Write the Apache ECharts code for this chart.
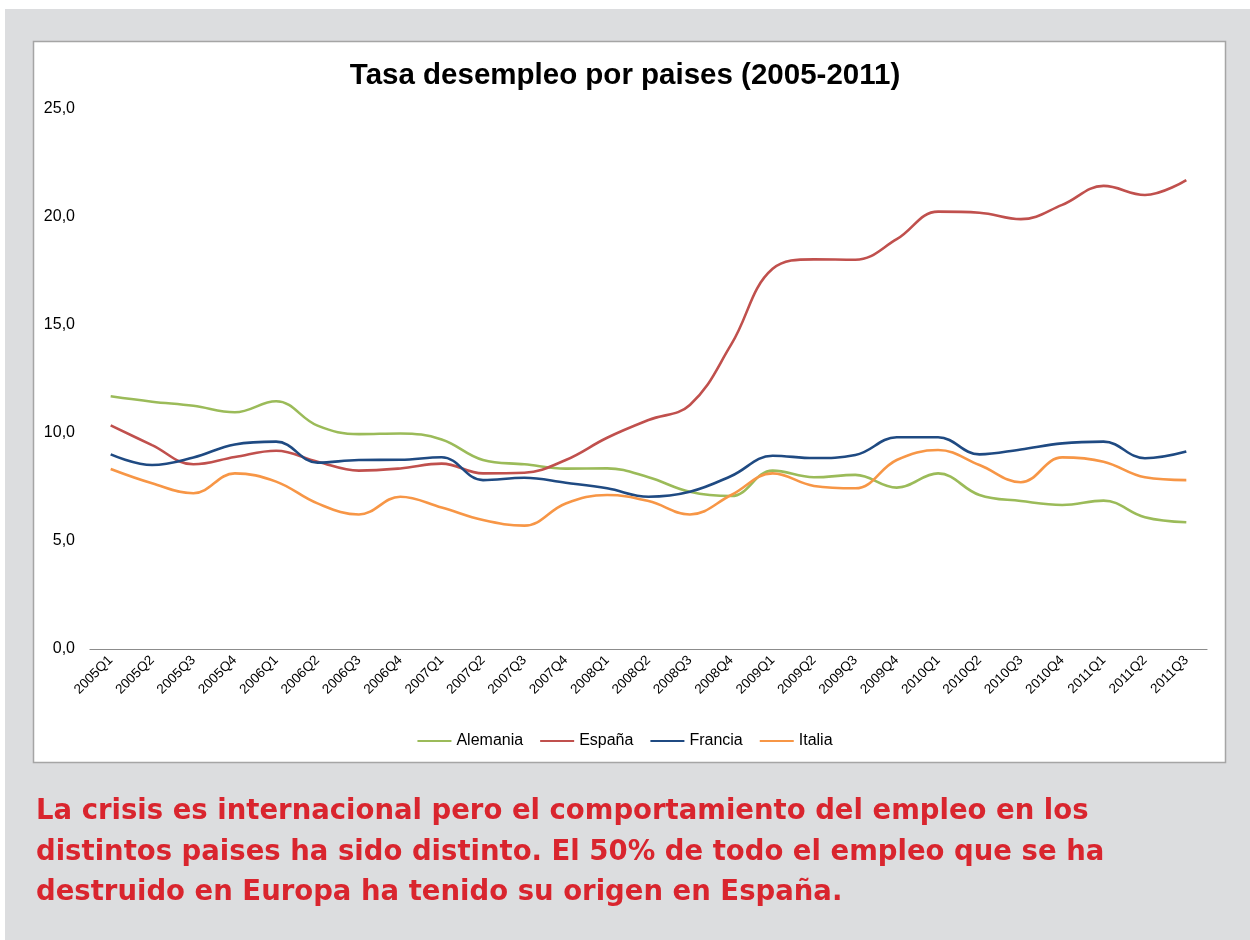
<!DOCTYPE html>
<html>
<head>
<meta charset="utf-8">
<script src="https://cdn.jsdelivr.net/npm/echarts@6/dist/echarts.min.js"></script>
<style>
  html, body { margin: 0; padding: 0; background: #fff; }
  #chart { width: 1250px; height: 940px; }
</style>
</head>
<body>
<div id="chart"></div>
<script>
const categories = [
  '2005Q1', '2005Q2', '2005Q3', '2005Q4', '2006Q1', '2006Q2', '2006Q3', '2006Q4',
  '2007Q1', '2007Q2', '2007Q3', '2007Q4', '2008Q1', '2008Q2', '2008Q3', '2008Q4',
  '2009Q1', '2009Q2', '2009Q3', '2009Q4', '2010Q1', '2010Q2', '2010Q3', '2010Q4',
  '2011Q1', '2011Q2', '2011Q3'
]
const alemania = [11.7, 11.45, 11.26, 10.96, 11.47, 10.34, 9.95, 9.98, 9.7, 8.75, 8.55, 8.35, 8.36, 7.95, 7.28, 7.08, 8.26, 7.95, 8.06, 7.47, 8.13, 7.13, 6.85, 6.67, 6.87, 6.1, 5.87]
const espana = [10.35, 9.44, 8.55, 8.89, 9.18, 8.67, 8.26, 8.36, 8.58, 8.13, 8.16, 8.75, 9.78, 10.6, 11.3, 14.1, 17.6, 18.04, 18.02, 18.97, 20.25, 20.2, 19.9, 20.56, 21.44, 21.02, 21.71]
const francia = [9.01, 8.52, 8.87, 9.47, 9.6, 8.63, 8.75, 8.76, 8.88, 7.82, 7.93, 7.7, 7.44, 7.05, 7.28, 8.01, 8.95, 8.84, 8.98, 9.8, 9.8, 9.01, 9.24, 9.52, 9.6, 8.83, 9.14]
const italia = [8.33, 7.67, 7.21, 8.13, 7.75, 6.74, 6.23, 7.05, 6.55, 5.97, 5.71, 6.74, 7.13, 6.85, 6.23, 7.13, 8.13, 7.55, 7.44, 8.75, 9.21, 8.52, 7.72, 8.87, 8.67, 7.95, 7.82]
const yTicks = [0, 5, 10, 15, 20, 25]

const chart = echarts.init(document.getElementById('chart'))

function lineSeries(name, data, color) {
  return {
    name: name,
    type: 'line',
    data: data,
    smooth: 0.4,
    symbol: 'none',
    lineStyle: { color: color, width: 2.6 },
    itemStyle: { color: color },
  }
}

const options = {
  backgroundColor: '#fff',
  animation: false,
  textStyle: { fontFamily: 'Liberation Sans, Arial, sans-serif' },
  graphic: [
    // fondo gris
    { type: 'rect', z: -10, silent: true, shape: { x: 5, y: 9, width: 1245, height: 931 }, style: { fill: '#dcdddf' } },
    // panel blanco del grafico
    { type: 'rect', z: -9, silent: true, shape: { x: 33.5, y: 41.5, width: 1192, height: 721 }, style: { fill: '#fff', stroke: '#a5a5a5', lineWidth: 1.5 } },
    {
      type: 'text',
      left: 36,
      top: 792,
      style: {
        text: 'La crisis es internacional pero el comportamiento del empleo en los\n' +
          'distintos paises ha sido distinto. El 50% de todo el empleo que se ha\n' +
          'destruido en Europa ha tenido su origen en España.',
        fill: '#d9252e',
        font: 'bold 27.5px "DejaVu Sans", Verdana, sans-serif',
        lineHeight: 40.5,
      },
    },
  ],
  title: {
    text: 'Tasa desempleo por paises (2005-2011)',
    left: 'center',
    top: 56,
    textStyle: { color: '#000', fontSize: 29.5, fontWeight: 'bold', fontFamily: 'Liberation Sans, Arial, sans-serif' },
  },
  grid: { left: 90, right: 43, top: 109, bottom: 291, containLabel: false },
  legend: {
    top: 728,
    left: 'center',
    itemWidth: 34,
    itemHeight: 2,
    itemGap: 17,
    icon: 'rect',
    textStyle: { color: '#000', fontSize: 16 },
    data: ['Alemania', 'España', 'Francia', 'Italia'],
  },
  xAxis: {
    type: 'category',
    data: categories,
    boundaryGap: true,
    axisLine: { lineStyle: { color: '#8c8c8c', width: 1.2 } },
    axisTick: { show: false },
    axisLabel: { rotate: 45, color: '#000', fontSize: 13.5, margin: 9, interval: 0 },
  },
  yAxis: {
    type: 'value',
    min: 0,
    max: 25,
    interval: 5,
    axisLine: { show: false },
    axisTick: { show: false },
    splitLine: { show: false },
    axisLabel: {
      color: '#000',
      fontSize: 16,
      margin: 15,
      formatter: (v) => (yTicks.indexOf(v) >= 0 ? v.toFixed(1).replace('.', ',') : ''),
    },
  },
  series: [
    lineSeries('Alemania', alemania, '#9bbb59'),
    lineSeries('España', espana, '#c0504d'),
    lineSeries('Francia', francia, '#1f4a82'),
    lineSeries('Italia', italia, '#f79646'),
  ],
}

chart.setOption(options)
</script>
</body>
</html>
